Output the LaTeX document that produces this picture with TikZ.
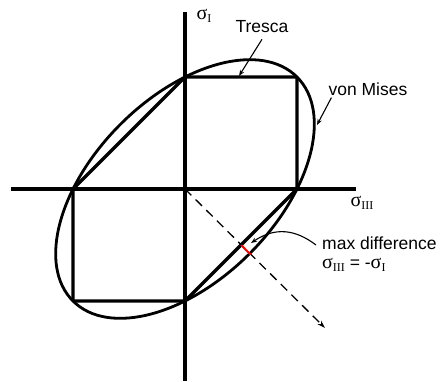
\documentclass[tikz,border=0pt]{standalone}
\usepackage{fontspec}
\setmainfont{Liberation Sans}
\newfontfamily\greekserif{Liberation Serif}
\usetikzlibrary{arrows.meta,positioning,calc}
\newcommand{\sig}[1]{{\greekserif\fontsize{20}{20}\selectfont σ\raisebox{-0.35ex}{\fontsize{12}{12}\selectfont #1}}}

\begin{document}
\begin{tikzpicture}[
  x=1pt,y=1pt,
  axis/.style={line width=3.6pt},
  yieldline/.style={line width=3.2pt,line join=round},
  lbl/.style={font=\fontsize{17.5}{20}\selectfont,inner sep=0pt},
  lead/.style={-{Stealth[length=6pt,width=4.5pt]},line width=1.1pt},
  diffray/.style={-{Stealth[length=8pt,width=5pt]},line width=1.3pt,dash pattern=on 9pt off 6pt}
]
\useasboundingbox (-185,-192) rectangle (260,189);
% axes
\coordinate (O) at (0,0);
\draw[axis] (-174,0) -- (171,0);
\draw[axis] (0,-192) -- (0,177);
\node[lbl] (s1) at (19,173) {\sig{I}};
\node[lbl] (s3) at (177,-14) {\sig{III}};
% Tresca hexagon
\coordinate (t1) at (0,112);
\coordinate (t2) at (112,112);
\coordinate (t3) at (112,0);
\coordinate (t4) at (0,-112);
\coordinate (t5) at (-112,-112);
\coordinate (t6) at (-112,0);
\draw[yieldline] (t1) -- (t2) -- (t3) -- (t4) -- (t5) -- (t6) -- cycle;
% von Mises ellipse
\draw[yieldline,line width=2.8pt,rotate=45] (O) ellipse[x radius=158.4,y radius=91.4];
% direction of max difference
\coordinate (rayend) at (140,-139);
\draw[diffray] (O) -- (rayend);
\coordinate (dA) at (56,-56);
\coordinate (dB) at (65.5,-65.5);
\draw[red,line width=2pt] (dA) -- (dB);
% labels
\node[lbl] (tresca) at (77,162) {Tresca};
\node[lbl] (mises) at (183,100) {von Mises};
\coordinate (tpt) at (54,113);
\coordinate (mpt) at (132,64);
\draw[lead] (tresca.south) ++(0,-6) -- (tpt);
\draw[lead] (mises.south west) ++(3,-2) -- (mpt);
\node[lbl,anchor=west] (maxd) at (137,-54) {max difference};
\node[lbl,below=8pt of maxd.south west,anchor=north west] (eqn) {\sig{III} = -\sig{I}};
\coordinate (dpt) at (66,-54);
\draw[lead] (maxd.west) ++(-6,-2) .. controls (110,-40) and (90,-38) .. (dpt);
\end{tikzpicture}
\end{document}
